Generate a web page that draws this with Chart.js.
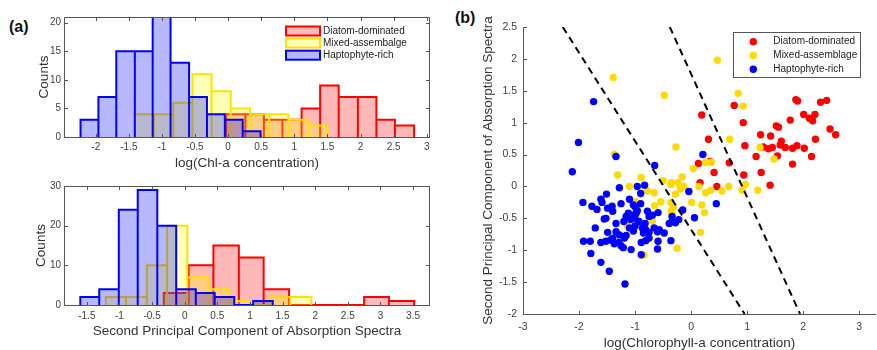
<!DOCTYPE html>
<html>
<head>
<meta charset="utf-8">
<script src="https://cdn.jsdelivr.net/npm/chart.js@4.4.1/dist/chart.umd.min.js"></script>
<style>
  html, body { margin: 0; padding: 0; background: #fff; overflow: hidden; }
  body { width: 877px; height: 350px; position: relative; font-family: 'Liberation Sans', Arial, sans-serif; }
  canvas { position: absolute; }
  .tag { position: absolute; font-weight: bold; font-size: 16px; line-height: 16px; color: #111; }
</style>
</head>
<body>
<div class="tag" style="left:9px;top:19px">(a)</div>
<div class="tag" style="left:455px;top:10px">(b)</div>
<canvas id="histChl" width="440" height="175" style="left:0;top:0"></canvas>
<canvas id="histPc" width="440" height="175" style="left:0;top:175px"></canvas>
<canvas id="scatter" width="404" height="352" style="left:476px;top:0"></canvas>
<script>
// legend texts (the left legend really says "assembalge")
const histNames = ['Diatom-dominated', 'Mixed-assembalge', 'Haptophyte-rich'];
const scatterNames = ['Diatom-dominated', 'Mixed-assemblage', 'Haptophyte-rich'];

// top histogram: log(Chl-a)
const chlTicks = [-2, -1.5, -1, -0.5, 0, 0.5, 1, 1.5, 2, 2.5, 3];
const chlCountTicks = [0, 5, 10, 15, 20];
const chlEdgesDiatom = [-0.03, 0.26, 0.54, 0.82, 1.11, 1.39, 1.67, 1.96, 2.24, 2.52, 2.81];
const chlCountsDiatom = [4, 4, 3, 3, 5, 9, 7, 7, 3, 2];
const chlEdgesMixed = [-1.41, -1.12, -0.83, -0.54, -0.25, 0.04, 0.33, 0.62, 0.91, 1.21, 1.50];
const chlCountsMixed = [4, 4, 6, 11, 8, 5, 4, 4, 3, 2];
const chlEdgesHapto = [-2.23, -1.96, -1.69, -1.41, -1.14, -0.87, -0.59, -0.32, -0.05, 0.22, 0.49];
const chlCountsHapto = [3, 7, 15, 15, 21, 13, 7, 4, 3, 1];

// bottom histogram: second principal component
const pcTicks = [-1.5, -1, -0.5, 0, 0.5, 1, 1.5, 2, 2.5, 3, 3.5];
const pcCountTicks = [0, 10, 20, 30];
const pcEdgesDiatom = [-0.32, 0.06, 0.44, 0.83, 1.21, 1.60, 1.98, 2.37, 2.75, 3.13, 3.52];
const pcCountsDiatom = [3, 10, 15, 12, 4, 0, 0, 0, 2, 1];
const pcEdgesMixed = [-1.21, -0.90, -0.58, -0.27, 0.04, 0.36, 0.68, 0.99, 1.30, 1.62, 1.94];
const pcCountsMixed = [2, 2, 10, 20, 7, 4, 1, 0, 2, 2];
const pcEdgesHapto = [-1.60, -1.31, -1.01, -0.72, -0.42, -0.13, 0.17, 0.46, 0.76, 1.05, 1.35];
const pcCountsHapto = [2, 4, 24, 29, 20, 4, 3, 2, 0, 1];

// scatter (b): [log chl-a, PC2]
const scatterXTicks = [-3, -2, -1, 0, 1, 2, 3];
const scatterYTicks = [-2, -1.5, -1, -0.5, 0, 0.5, 1, 1.5, 2, 2.5];
const diatomPts = [
  [0.19, 1.12], [0.77, 1.27], [0.93, 1.00], [1.87, 1.36], [1.90, 1.34], [2.31, 1.32], [2.42, 1.35],
  [1.77, 1.04], [2.01, 1.13], [2.11, 1.07], [2.17, 1.03], [2.21, 1.13], [2.48, 0.90], [2.58, 0.81],
  [2.22, 0.74], [1.52, 0.95], [1.56, 0.93], [1.42, 0.79], [1.24, 0.81], [1.61, 0.71], [1.59, 0.65],
  [1.68, 0.61], [1.45, 0.61], [1.38, 0.59], [1.29, 0.62], [1.81, 0.60], [1.89, 0.64], [2.02, 0.60],
  [0.96, 0.64], [0.31, 0.74], [1.16, 0.47], [1.54, 0.48], [1.81, 0.35], [2.15, 0.47], [0.13, 0.36],
  [0.34, 0.39], [0.68, 0.37], [0.41, 0.22], [0.94, 0.18], [1.25, 0.22], [0.16, 0.06], [0.46, 0.00],
  [1.41, 0.02]
];
const mixedPts = [
  [-1.39, 1.71], [0.47, 1.98], [-0.48, 1.43], [0.84, 1.46], [0.93, 1.26], [-1.37, 0.50], [-0.27, 0.62],
  [0.69, 0.74], [1.23, 0.61], [1.48, 0.43], [0.26, 0.38], [0.36, 0.38], [0.04, 0.28], [-1.31, 0.18],
  [-0.16, 0.15], [-0.89, 0.14], [-1.10, 0.00], [-0.50, 0.09], [-0.35, 0.06], [-0.23, 0.06], [-0.20, 0.01],
  [-0.13, 0.00], [-0.19, -0.04], [-0.28, -0.12], [-0.78, -0.07], [-0.66, -0.10], [0.14, 0.00], [0.26, -0.10],
  [0.35, -0.06], [0.55, -0.07], [0.67, 0.00], [0.91, -0.06], [0.97, 0.03], [1.19, -0.06], [0.01, -0.25],
  [0.19, -0.29], [0.24, -0.41], [-0.54, -0.24], [-0.65, -0.30], [-0.99, -0.24], [-0.36, -0.25], [-0.31, -0.32],
  [-0.35, -0.38], [-0.34, -0.43], [-0.69, -0.54], [-1.14, -0.62], [0.17, -0.72], [-0.25, -0.97], [-0.84, -1.08],
  [-0.36, 0.03]
];
const haptoPts = [
  [-1.74, 1.33], [-2.01, 0.69], [-1.34, 0.47], [0.21, 0.50], [-0.65, 0.33], [-2.12, 0.23], [-1.28, -0.02],
  [-0.96, 0.00], [-0.83, 0.02], [-0.04, -0.08], [-0.90, -0.11], [0.45, -0.27], [-1.93, -0.25], [-1.61, -0.20],
  [-1.51, -0.12], [-1.59, -0.25], [-1.77, -0.31], [-1.68, -0.36], [-1.10, -0.20], [-0.90, -0.27], [-1.03, -0.29],
  [-0.99, -0.33], [-1.25, -0.27], [-1.41, -0.31], [-1.49, -0.34], [-1.40, -0.39], [-1.52, -0.50], [-1.55, -0.51],
  [-1.34, -0.58], [-1.16, -0.47], [-1.12, -0.42], [-1.05, -0.45], [-1.08, -0.52], [-1.20, -0.55], [-0.78, -0.39],
  [-0.59, -0.41], [-0.75, -0.47], [-0.69, -0.45], [-0.34, -0.47], [-0.39, -0.58], [-0.34, -0.55], [-0.22, -0.52],
  [-0.28, -0.57], [-0.15, -0.37], [0.06, -0.49], [-0.82, -0.58], [-0.87, -0.65], [-0.81, -0.68], [-0.66, -0.65],
  [-0.60, -0.71], [-0.57, -0.68], [-0.48, -0.73], [-1.03, -0.70], [-0.85, -0.73], [-0.75, -0.72], [-1.71, -0.65],
  [-1.49, -0.72], [-1.34, -0.71], [-1.28, -0.76], [-1.16, -0.77], [-1.19, -0.81], [-1.92, -0.86], [-1.80, -0.86],
  [-1.61, -0.88], [-1.52, -0.86], [-1.44, -0.84], [-1.40, -0.81], [-1.37, -0.90], [-1.29, -0.88], [-1.25, -0.93],
  [-1.21, -0.96], [-1.07, -0.99], [-0.89, -0.88], [-0.81, -0.85], [-0.75, -0.81], [-0.59, -0.86], [-0.60, -0.98],
  [-0.36, -0.85], [-0.89, -1.07], [-1.79, -1.05], [-1.61, -1.19], [-1.46, -1.33], [-1.18, -1.53], [-0.96, -0.38],
  [-0.93, -0.55], [-1.00, -0.50], [-0.98, -0.42], [-1.10, -0.65], [-1.00, -0.62]
];
// dashed class boundaries, end points
const boundaryLow = [[-2.29, 2.5], [0.955, -2]];
const boundaryHigh = [[-0.38, 2.5], [1.945, -2]];

const FONT = "'Liberation Sans', Arial, sans-serif";
const AXIS = '#555';
const RED = '#ff0000', YEL = '#ffe100', BLU = '#0000ff';
const DOT_YEL = 'rgb(255,218,0)';
Chart.defaults.font.family = FONT;
Chart.defaults.color = '#404040';

// MATLAB-like frame with inward ticks
const frame = {
  id: 'frame',
  afterDatasetsDraw(chart, args, o) {
    const { ctx, chartArea: a, scales: { x, y } } = chart;
    const L = Math.round(a.left) + 0.5, R = Math.round(a.right) - 0.5;
    const T = Math.round(a.top) + 0.5, B = Math.round(a.bottom) + 0.5;
    const len = 3.5;
    ctx.save();
    ctx.strokeStyle = AXIS;
    ctx.lineWidth = 1;
    ctx.beginPath();
    ctx.moveTo(L, T); ctx.lineTo(L, B); ctx.lineTo(R + 0.5, B);
    if (o.box) { ctx.moveTo(L, T); ctx.lineTo(R, T); ctx.lineTo(R, B); }
    x.ticks.forEach(t => {
      const px = Math.round(x.getPixelForValue(t.value)) + 0.5;
      ctx.moveTo(px, B); ctx.lineTo(px, B - len);
      if (o.box) { ctx.moveTo(px, T); ctx.lineTo(px, T + len); }
    });
    y.ticks.forEach(t => {
      const py = Math.round(y.getPixelForValue(t.value)) + 0.5;
      ctx.moveTo(L, py); ctx.lineTo(L + len, py);
      if (o.box) { ctx.moveTo(R, py); ctx.lineTo(R - len, py); }
    });
    ctx.stroke();
    ctx.restore();
  }
};

// hand-placed legend, same look as the original
const keyBox = {
  id: 'keyBox',
  afterDraw(chart, args, o) {
    if (!o.rows) return;
    const ctx = chart.ctx;
    ctx.save();
    if (o.box) {
      ctx.fillStyle = '#fff';
      ctx.fillRect(o.box[0], o.box[1], o.box[2], o.box[3]);
      ctx.strokeStyle = '#555';
      ctx.lineWidth = 1;
      ctx.strokeRect(o.box[0] + 0.5, o.box[1] + 0.5, o.box[2], o.box[3]);
    }
    ctx.font = '10px ' + FONT;
    ctx.textBaseline = 'middle';
    o.rows.forEach((text, i) => {
      const ds = chart.data.datasets[i];
      const cy = o.y0 + i * o.dy;
      if (o.kind === 'patch') {
        ctx.fillStyle = '#fff';
        ctx.fillRect(o.mx, cy - 4.5, 34, 9);
        ctx.fillStyle = ds.backgroundColor;
        ctx.fillRect(o.mx, cy - 4.5, 34, 9);
        ctx.strokeStyle = ds.borderColor;
        ctx.lineWidth = 2;
        ctx.strokeRect(o.mx, cy - 4.5, 34, 9);
      } else {
        ctx.fillStyle = ds.backgroundColor;
        ctx.beginPath();
        ctx.arc(o.mx, cy, 3.7, 0, Math.PI * 2);
        ctx.fill();
      }
      ctx.fillStyle = '#222';
      ctx.fillText(text, o.tx, cy);
    });
    ctx.restore();
  }
};

function histSet(edges, counts, line, fill, order) {
  const pts = [{ x: edges[0], y: 0 }];
  counts.forEach((c, i) => {
    pts.push({ x: edges[i], y: c }, { x: edges[i + 1], y: c }, { x: edges[i + 1], y: 0 });
  });
  return {
    data: pts, borderColor: line, backgroundColor: fill, borderWidth: 2,
    pointRadius: 0, fill: 'origin', tension: 0, borderJoinStyle: 'miter', order
  };
}

function axis(min, max, ticks, title, cfg) {
  return {
    type: 'linear', min, max,
    afterBuildTicks: s => { s.ticks = ticks.map(v => ({ value: v })); },
    afterFit: s => { if (cfg.w) s.width = cfg.w; if (cfg.h) s.height = cfg.h; },
    grid: { display: false, drawTicks: false },
    border: { display: false },
    ticks: { padding: cfg.pad, font: { size: cfg.tickSize }, color: '#404040', callback: v => String(v), autoSkip: false, maxRotation: 0 },
    title: { display: true, text: title, font: { size: 13.5 }, color: '#333', padding: cfg.titlePad }
  };
}

function histChart(id, sets, xr, xt, yr, yt, xTitle, lay, key) {
  new Chart(document.getElementById(id), {
    type: 'line',
    data: { datasets: sets },
    options: {
      responsive: false, animation: false, events: [],
      layout: { padding: lay.pad },
      scales: {
        x: axis(xr[0], xr[1], xt, xTitle, { h: lay.xh, pad: lay.xpad, tickSize: 10, titlePad: { top: 0, bottom: lay.xtp } }),
        y: axis(yr[0], yr[1], yt, 'Counts', { w: 64, pad: 3, tickSize: 10, titlePad: { top: lay.ytp, bottom: 0 } })
      },
      plugins: { legend: { display: false }, tooltip: { enabled: false }, frame: { box: true }, keyBox: key }
    },
    plugins: [frame, keyBox]
  });
}

histChart('histChl', [
  histSet(chlEdgesDiatom, chlCountsDiatom, RED, 'rgba(255,0,0,0.28)', 3),
  histSet(chlEdgesMixed, chlCountsMixed, YEL, 'rgba(255,255,0,0.28)', 2),
  histSet(chlEdgesHapto, chlCountsHapto, BLU, 'rgba(0,0,255,0.28)', 1)
], [-2.48, 3.05], chlTicks, [0, 21], chlCountTicks, 'log(Chl-a concentration)',
  { pad: { top: 17, right: 10, left: 0, bottom: 0 }, xh: 38, xpad: 4.5, xtp: 4, ytp: 36 },
  { kind: 'patch', rows: histNames, mx: 286, tx: 323, y0: 31, dy: 12.1 });

histChart('histPc', [
  histSet(pcEdgesDiatom, pcCountsDiatom, RED, 'rgba(255,0,0,0.28)', 3),
  histSet(pcEdgesMixed, pcCountsMixed, YEL, 'rgba(255,255,0,0.28)', 2),
  histSet(pcEdgesHapto, pcCountsHapto, BLU, 'rgba(0,0,255,0.28)', 1)
], [-1.85, 3.76], pcTicks, [0, 30], pcCountTicks, 'Second Principal Component of Absorption Spectra',
  { pad: { top: 11, right: 10, left: 0, bottom: 0 }, xh: 45, xpad: 5, xtp: 11, ytp: 33 },
  {});

const toXY = arr => arr.map(p => ({ x: p[0], y: p[1] }));
const dots = (arr, color, order) => ({
  data: toXY(arr), backgroundColor: color, borderWidth: 0, pointRadius: 3.7, order
});
const dashed = arr => ({
  data: toXY(arr), showLine: true, borderColor: '#000', borderWidth: 2, borderDash: [7, 5],
  pointRadius: 0, order: 0, fill: false
});

new Chart(document.getElementById('scatter'), {
  type: 'scatter',
  data: {
    datasets: [
      dots(diatomPts, RED, 3),
      dots(mixedPts, DOT_YEL, 2),
      dots(haptoPts, BLU, 1),
      dashed(boundaryLow),
      dashed(boundaryHigh)
    ]
  },
  options: {
    responsive: false, animation: false, events: [],
    layout: { padding: { top: 27, right: 2, left: 0, bottom: 0 } },
    scales: {
      x: axis(-3, 3.3, scatterXTicks, 'log(Chlorophyll-a concentration)', { h: 38, pad: 7, tickSize: 10.5, titlePad: { top: 0, bottom: 1 } }),
      y: axis(-2, 2.5, scatterYTicks, 'Second Principal Component of Absorption Spectra', { w: 47, pad: 6, tickSize: 10.5, titlePad: { top: 4, bottom: 0 } })
    },
    plugins: {
      legend: { display: false }, tooltip: { enabled: false },
      frame: { box: false },
      keyBox: { kind: 'dot', rows: scatterNames, box: [257, 32, 127, 45], mx: 277.3, tx: 297.3, y0: 41.7, dy: 13.8 }
    }
  },
  plugins: [frame, keyBox]
});
</script>
</body>
</html>
